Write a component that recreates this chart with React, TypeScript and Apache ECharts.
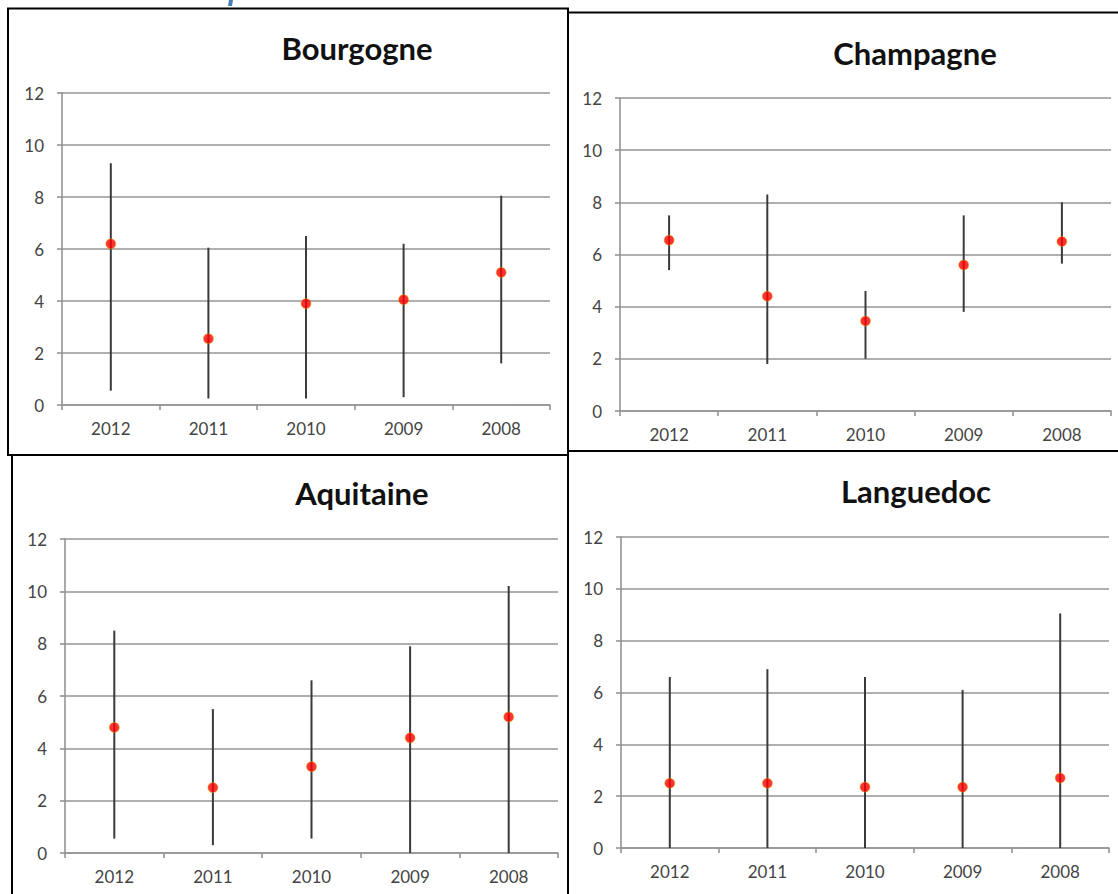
import React, { useEffect, useRef } from "react";
import * as echarts from "echarts";

const years = ["2012", "2011", "2010", "2009", "2008"];
const yTicks = { min: 0, max: 12, interval: 2 };

const bourgogneMean = [6.2, 2.55, 3.9, 4.05, 5.1];
const bourgogneLow = [0.55, 0.25, 0.25, 0.3, 1.6];
const bourgogneHigh = [9.3, 6.05, 6.5, 6.2, 8.05];

const champagneMean = [6.55, 4.4, 3.45, 5.6, 6.5];
const champagneLow = [5.4, 1.8, 2.0, 3.8, 5.65];
const champagneHigh = [7.5, 8.3, 4.6, 7.5, 8.0];

const aquitaineMean = [4.8, 2.5, 3.3, 4.4, 5.2];
const aquitaineLow = [0.55, 0.3, 0.55, 0, 0];
const aquitaineHigh = [8.5, 5.5, 6.6, 7.9, 10.2];

const languedocMean = [2.5, 2.5, 2.35, 2.35, 2.7];
const languedocLow = [0, 0, 0, 0, 0];
const languedocHigh = [6.6, 6.9, 6.6, 6.1, 9.05];

const panels = [
  { name: "Bourgogne", mean: bourgogneMean, low: bourgogneLow, high: bourgogneHigh,
    grid: { left: 62, top: 93, width: 488, height: 312 }, title: [357, 48] },
  { name: "Champagne", mean: champagneMean, low: champagneLow, high: champagneHigh,
    grid: { left: 620, top: 98, width: 491, height: 313 }, title: [915, 53] },
  { name: "Aquitaine", mean: aquitaineMean, low: aquitaineLow, high: aquitaineHigh,
    grid: { left: 65, top: 539, width: 493, height: 314 }, title: [362, 493] },
  { name: "Languedoc", mean: languedocMean, low: languedocLow, high: languedocHigh,
    grid: { left: 621, top: 537, width: 488, height: 311 }, title: [916, 491] },
];

const FONT = "Lato";
const GRID_GRAY = "#949494";
const LABEL_GRAY = "#444444";

export default function App() {
  const ref = useRef<HTMLDivElement>(null);

  useEffect(() => {
    if (!ref.current) return;
    const chart = echarts.init(ref.current, undefined, { renderer: "svg" });

    const grids: any[] = [];
    const xAxes: any[] = [];
    const yAxes: any[] = [];
    const series: any[] = [];
    const graphics: any[] = [];

    const borders = [
      { x: 568, y: 12.5, w: 560, h: 438.5 },
      { x: 12, y: 455, w: 556, h: 460 },
      { x: 568, y: 451, w: 560, h: 460 },
      { x: 8, y: 8.5, w: 560, h: 446.5 },
    ];
    borders.forEach((b) => {
      graphics.push({
        type: "rect",
        shape: { x: b.x, y: b.y, width: b.w, height: b.h },
        style: { fill: "#ffffff", stroke: "#000000", lineWidth: 2 },
        z: -10,
      });
    });
    graphics.push({
      type: "polygon",
      shape: { points: [[229, 0], [233, 0], [232, 6], [228, 6]] },
      style: { fill: "#4a7ebb" },
    });

    panels.forEach((p, i) => {
      grids.push({ ...p.grid, containLabel: false });
      xAxes.push({
        type: "category",
        gridIndex: i,
        data: years,
        boundaryGap: true,
        axisLine: { show: true, lineStyle: { color: GRID_GRAY, width: 1.6 } },
        axisTick: { show: true, length: 5, lineStyle: { color: GRID_GRAY, width: 1.6 } },
        axisLabel: { color: LABEL_GRAY, fontFamily: FONT, fontSize: 17, margin: 15 },
        splitLine: { show: false },
      });
      yAxes.push({
        type: "value",
        gridIndex: i,
        min: yTicks.min,
        max: yTicks.max,
        interval: yTicks.interval,
        axisLine: { show: true, lineStyle: { color: GRID_GRAY, width: 1.6 } },
        axisTick: { show: true, length: 5, lineStyle: { color: GRID_GRAY, width: 1.6 } },
        axisLabel: { color: LABEL_GRAY, fontFamily: FONT, fontSize: 17, margin: 18 },
        splitLine: { show: true, lineStyle: { color: GRID_GRAY, width: 1.6 } },
      });
      series.push({
        type: "custom",
        xAxisIndex: i,
        yAxisIndex: i,
        data: years.map((_, k) => [k, p.low[k], p.high[k]]),
        renderItem: (params: any, api: any) => {
          const x = api.value(0);
          const lo = api.coord([x, api.value(1)]);
          const hi = api.coord([x, api.value(2)]);
          return {
            type: "line",
            shape: { x1: lo[0], y1: lo[1], x2: hi[0], y2: hi[1] },
            style: { stroke: "#3a3a3a", lineWidth: 2 },
          };
        },
        z: 3,
      });
      series.push({
        type: "scatter",
        xAxisIndex: i,
        yAxisIndex: i,
        data: p.mean.map((v, k) => [k, v]),
        symbol: "circle",
        symbolSize: 10,
        itemStyle: { color: "#ff0000", borderColor: "#d9b400", borderWidth: 0.6 },
        z: 5,
      });
      graphics.push({
        type: "text",
        x: p.title[0],
        y: p.title[1],
        style: {
          text: p.name,
          fontFamily: FONT,
          fontWeight: "bold",
          fontSize: 31,
          fill: "#111111",
          textAlign: "center",
          textVerticalAlign: "middle",
        },
      });
    });

    chart.setOption({
      animation: false,
      backgroundColor: "#ffffff",
      grid: grids,
      xAxis: xAxes,
      yAxis: yAxes,
      series,
      graphic: { elements: graphics },
    });

    return () => chart.dispose();
  }, []);

  return (
    <div
      ref={ref}
      style={{ position: "absolute", left: 0, top: 0, width: 1118, height: 894, overflow: "hidden" }}
    />
  );
}
